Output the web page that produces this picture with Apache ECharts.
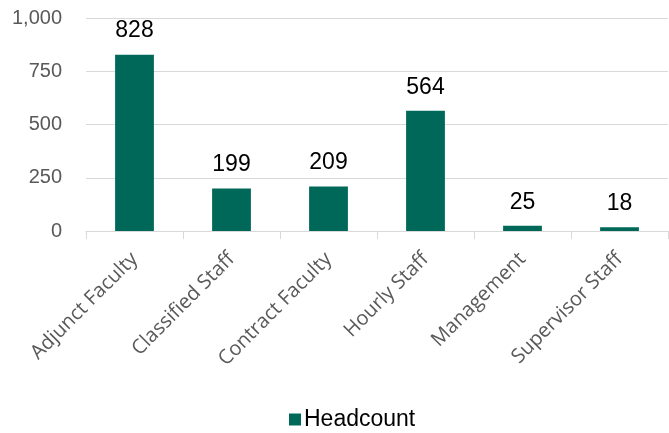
<!DOCTYPE html>
<html><head><meta charset="utf-8">
<script src="https://cdn.jsdelivr.net/npm/echarts@6/dist/echarts.min.js"></script>
<style>html,body{margin:0;padding:0;background:#fff}#c{width:669px;height:433px}</style>
</head><body><div id="c"></div>
<script>
const categories = ["Adjunct Faculty","Classified Staff","Contract Faculty","Hourly Staff","Management","Supervisor Staff"];
const headcount = [828,199,209,564,25,18];
const yTicks = {min:0, max:1000, interval:250};
const seriesName = "Headcount";

const chart = echarts.init(document.getElementById('c'), null, {renderer:'canvas'});
chart.setOption({
  animation:false,
  grid:{left:86, right:1, top:18, bottom:202, containLabel:false},
  legend:{top:403, left:284, itemWidth:12, itemHeight:12, itemGap:5,
    icon:'rect', textStyle:{fontFamily:'Liberation Sans', fontSize:23, color:'#000', padding:[0,0,0,-2]}, data:[seriesName]},
  xAxis:{type:'category', data:categories,
    axisLine:{lineStyle:{color:'#d9d9d9', width:1}},
    axisTick:{show:true, length:8, lineStyle:{color:'#d9d9d9'}},
    axisLabel:{rotate:45, interval:0, margin:25, fontFamily:'Open Sans', fontSize:20, color:'#595959'}},
  yAxis:{type:'value', min:yTicks.min, max:yTicks.max, interval:yTicks.interval,
    axisLine:{show:false}, axisTick:{show:false},
    splitLine:{lineStyle:{color:'#d9d9d9', width:1}},
    axisLabel:{margin:24, fontFamily:'Liberation Sans', fontSize:20, color:'#595959',
      formatter:v=>v.toLocaleString('en-US')}},
  series:[{name:seriesName, type:'bar', data:headcount, barWidth:'40%',
    itemStyle:{color:'#006858'},
    label:{show:true, position:'top', distance:12, fontFamily:'Liberation Sans', fontSize:23, color:'#000'}}]
});
</script></body></html>
